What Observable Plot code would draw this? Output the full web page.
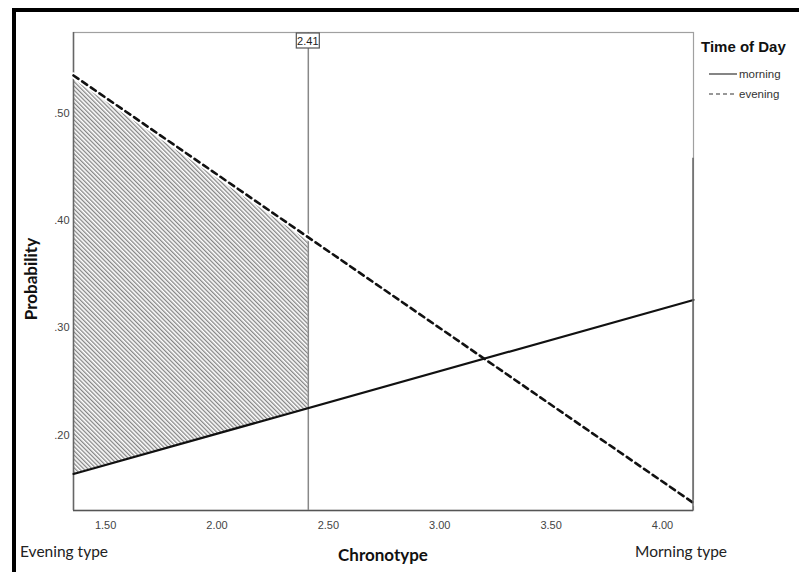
<!DOCTYPE html>
<html>
<head>
<meta charset="utf-8">
<script src="https://cdn.jsdelivr.net/npm/d3@7"></script>
<script src="https://cdn.jsdelivr.net/npm/@observablehq/plot@0.6"></script>
<style>
  html, body { margin: 0; padding: 0; background: #fff; }
  #chart { width: 799px; height: 572px; }
</style>
</head>
<body>
<div id="chart"></div>
<script>
// ---- data ----
const xDomain = [1.356, 4.139];          // chronotype range shown
const yDomain = [0.130, 0.575];          // probability range shown
const chronotypeEnds = [1.356, 4.139];   // fitted line end points
const morningProb = [0.164, 0.326];
const eveningProb = [0.535, 0.137];
const cutoff = 2.41;
const shadeX = [1.356, 2.41];
const shadeTop = [0.535, 0.384];
const shadeBottom = [0.164, 0.225];
const xTicks = [1.5, 2.0, 2.5, 3.0, 3.5, 4.0];
const yTicks = [0.2, 0.3, 0.4, 0.5];
const seriesNames = ["morning", "evening"];

const lines = [
  ...chronotypeEnds.map((x, i) => ({x, y: morningProb[i], s: "morning"})),
  ...chronotypeEnds.map((x, i) => ({x, y: eveningProb[i], s: "evening"}))
];
const shade = shadeX.map((x, i) => ({x, y1: shadeBottom[i], y2: shadeTop[i]}));

const W = 799, H = 572;
const plot = Plot.plot({
  width: W,
  height: H,
  marginLeft: 73,
  marginRight: 106,
  marginTop: 32,
  marginBottom: 62,
  style: {background: "#fff", fontFamily: "'Liberation Sans', Arial, sans-serif", fontSize: "11px"},
  x: {domain: xDomain, ticks: xTicks, tickFormat: d3.format(".2f"), tickSize: 0, tickPadding: 11, label: null},
  y: {domain: yDomain, ticks: yTicks, tickFormat: d => d3.format(".2f")(d).replace(/^0/, ""), tickSize: 0, tickPadding: 4, label: null},
  marks: [
    Plot.areaY(shade, {x: "x", y1: "y1", y2: "y2", fill: "url(#hatch)", curve: "linear"}),
    Plot.frame({stroke: "#a0a0a0", strokeWidth: 1.2}),
    Plot.ruleY([yDomain[0]], {stroke: "#555", strokeWidth: 1.5}),
    Plot.ruleX([xDomain[0]], {stroke: "#666", strokeWidth: 1.5}),
    Plot.ruleX([cutoff], {stroke: "#888", strokeWidth: 1.5}),
    Plot.line(lines.filter(d => d.s === "evening"), {x: "x", y: "y", stroke: "#fff", strokeWidth: 6}),
    Plot.line(lines.filter(d => d.s === "morning"), {x: "x", y: "y", stroke: "#111", strokeWidth: 2.2}),
    Plot.line(lines.filter(d => d.s === "evening"), {x: "x", y: "y", stroke: "#111", strokeWidth: 2.6, strokeDasharray: "6,4.5"}),
  ]
});

const svg = d3.select(plot);
// hatch pattern
const defs = svg.insert("defs", ":first-child");
const pat = defs.append("pattern")
  .attr("id", "hatch").attr("patternUnits", "userSpaceOnUse")
  .attr("width", 3).attr("height", 3)
  .attr("patternTransform", "rotate(-45)");
pat.append("rect").attr("width", 3).attr("height", 3).attr("fill", "#fff");
pat.append("rect").attr("width", 1.3).attr("height", 3).attr("fill", "#858585");

svg.selectAll("[aria-label='x-axis tick label'], [aria-label='y-axis tick label']")
  .style("font-size", "11px").attr("fill", "#444");

const xs = d3.scaleLinear().domain(xDomain).range([73, W - 106]);
const ys = d3.scaleLinear().domain(yDomain).range([H - 62, 32]);

// cutoff label box
const g = svg.append("g").attr("text-anchor", "start");
const bx = xs(cutoff);
g.append("rect").attr("x", bx - 11.5).attr("y", 33).attr("width", 23).attr("height", 15)
  .attr("fill", "#fff").attr("stroke", "#555").attr("stroke-width", 1.2);
g.append("text").attr("x", bx).attr("y", 45).attr("text-anchor", "middle")
  .style("font-size", "11px").attr("fill", "#222").text(String(cutoff));

// right frame darker lower segment
g.append("line").attr("x1", xs(xDomain[1])).attr("x2", xs(xDomain[1]))
  .attr("y1", ys(0.458)).attr("y2", ys(yDomain[0])).attr("stroke", "#666").attr("stroke-width", 1.5);

// legend
g.append("text").attr("x", 701).attr("y", 52).attr("text-anchor", "start").style("font-size", "15px").attr("font-weight", "bold")
  .attr("fill", "#111").text("Time of Day");
seriesNames.forEach((name, i) => {
  const yy = 74 + i * 20;
  g.append("line").attr("x1", 709).attr("x2", 737).attr("y1", yy).attr("y2", yy)
    .attr("stroke", "#333").attr("stroke-width", 1.2)
    .attr("stroke-dasharray", name === "evening" ? "4,3" : null);
  g.append("text").attr("x", 739).attr("y", yy + 4).attr("text-anchor", "start")
    .style("font-size", "11.5px").attr("fill", "#333").text(name);
});

// axis titles
g.append("text").attr("transform", `translate(37,${ys(0.345)}) rotate(-90)`)
  .attr("text-anchor", "middle").attr("font-family", "Lato, sans-serif")
  .style("font-size", "17px").attr("font-weight", "bold").attr("fill", "#111").text("Probability");
g.append("text").attr("x", 383).attr("y", 561).attr("text-anchor", "middle")
  .attr("font-family", "Lato, sans-serif").style("font-size", "17px").attr("font-weight", "bold")
  .attr("fill", "#111").text("Chronotype");
g.append("text").attr("x", 20).attr("y", 557).attr("text-anchor", "start").attr("font-family", "Lato, sans-serif")
  .style("font-size", "15.5px").attr("fill", "#222").text("Evening type");
g.append("text").attr("x", 635).attr("y", 557).attr("text-anchor", "start").attr("font-family", "Lato, sans-serif")
  .style("font-size", "15.5px").attr("fill", "#222").text("Morning type");

// outer thick border (top and left)
g.append("line").attr("x1", 12).attr("x2", W).attr("y1", 10).attr("y2", 10).attr("stroke", "#000").attr("stroke-width", 4);
g.append("line").attr("x1", 14).attr("x2", 14).attr("y1", 8).attr("y2", H).attr("stroke", "#000").attr("stroke-width", 4);

document.getElementById("chart").appendChild(plot);
</script>
</body>
</html>
